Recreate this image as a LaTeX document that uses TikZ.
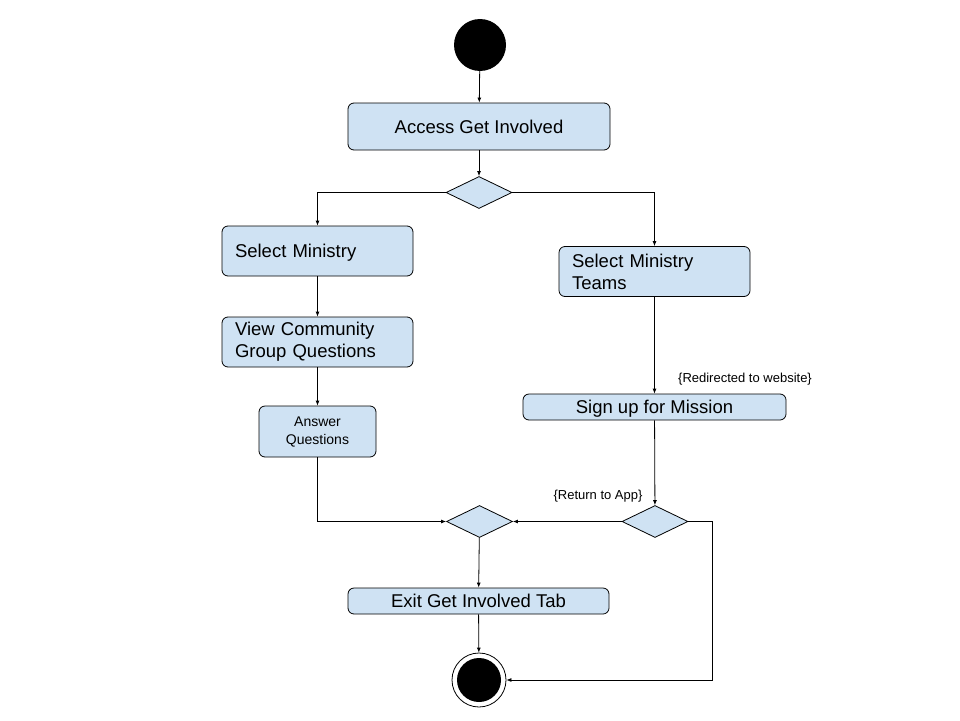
\documentclass[tikz,border=0pt]{standalone}
\usepackage{fontspec}
\setmainfont{Liberation Sans}
\usepackage{tikz}
\usetikzlibrary{shapes.geometric,arrows.meta,calc}
\definecolor{actblue}{HTML}{CFE2F3}

\begin{document}
\begin{tikzpicture}[x=1pt,y=-1pt]
\path [use as bounding box] (0,0) rectangle (960,720);
\tikzstyle{act} = [draw, rounded corners=6pt, fill=actblue, line width=0.8pt, inner sep=0pt, font=\fontsize{18.5}{22}\selectfont]
\tikzstyle{oneline} = [act, text depth=0pt]
\tikzstyle{leftact} = [act, text width=165pt, inner xsep=13pt, minimum height=50pt, align=left]
\tikzstyle{branch} = [diamond, draw, fill=actblue, minimum width=66pt, minimum height=32pt, inner sep=0pt, line width=0.8pt]
\tikzstyle{flow} = [-{Latex[length=5pt,width=4pt]}, line width=0.8pt]
\tikzstyle{guard} = [font=\fontsize{13}{15}\selectfont]
\node[circle, fill, minimum size=52pt, inner sep=0pt] (start) at (480,45) {};
\node[oneline, minimum width=262pt, minimum height=47pt] (access) at (479,126.5) {Access Get Involved};
\node[branch] (split) at (479,192.5) {};
\node[leftact, text depth=0pt] (ministry) at (317.5,251) {Select Ministry};
\node[leftact] (teams) at (654.5,271.5) {Select Ministry\\Teams};
\node[leftact] (view) at (317.5,342) {View Community\\Group Questions};
\node[act, minimum width=117pt, minimum height=51pt, align=center, font=\fontsize{14}{18}\selectfont] (answer) at (317.5,431.5) {Answer\\Questions};
\node[oneline, minimum width=263pt, minimum height=26pt] (signup) at (654.5,407) {Sign up for Mission};
\node[guard] (redirect) at (745,379) {\{Redirected to website\}};
\node[branch] (back) at (655,521.5) {};
\node[guard] (backlabel) at (598,496) {\{Return to App\}};
\node[branch] (merge) at (479.5,521.5) {};
\node[oneline, minimum width=261pt, minimum height=26pt] (exit) at (478.5,601) {Exit Get Involved Tab};
\node[circle, draw, minimum size=54pt, inner sep=0pt, line width=0.8pt] (end) at (479,680) {};
\node[circle, fill, minimum size=44pt, inner sep=0pt] (endcore) at (end) {};
\coordinate (loop) at (712,521.5);
\draw[flow] (start) -- (access);
\draw[flow] (access) -- (split);
\draw[flow] (split.west) -| (ministry.north);
\draw[flow] (split.east) -| (teams.north);
\draw[flow] (ministry) -- (view);
\draw[flow] (view) -- (answer);
\draw[flow] (answer.south) |- (merge.west);
\draw[flow] (teams) -- (signup);
\draw[flow] (signup) -- (back);
\draw[flow] (back) -- (merge);
\draw[flow] (back.east) -- (loop) |- (end.east);
\draw[flow] (merge) -- (exit);
\draw[flow] (exit) -- (end);
\end{tikzpicture}
\end{document}
